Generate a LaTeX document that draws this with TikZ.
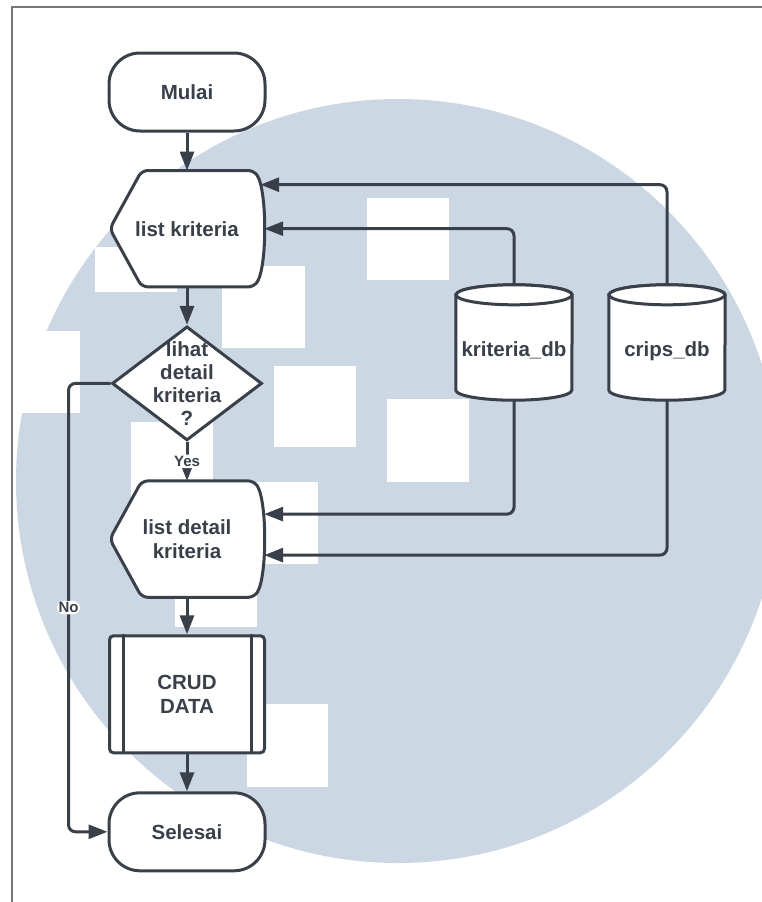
\documentclass[tikz,border=0pt]{standalone}
\usepackage{fontspec}
\setmainfont{Liberation Sans}
\usetikzlibrary{arrows.meta, positioning, shapes.geometric, backgrounds}
\definecolor{inkgray}{HTML}{3A4049}
\definecolor{markblue}{HTML}{CBD7E3}
\definecolor{framegray}{HTML}{767676}
\tikzset{
  term/.style={draw=inkgray, line width=3pt, fill=white, rounded corners=31pt,
               minimum width=156pt, minimum height=78pt, align=center,
               font=\bfseries\fontsize{20.5}{24}\selectfont, text=inkgray},
  disp/.style={minimum width=154pt, minimum height=116pt, align=center,
               font=\bfseries\fontsize{20.5}{24}\selectfont, text=inkgray},
  dec/.style={diamond, draw=inkgray, line width=3pt, fill=white,
              minimum width=150pt, minimum height=114pt, inner sep=-40pt, align=center,
              font=\bfseries\fontsize{20.5}{23}\selectfont, text=inkgray},
  proc/.style={draw=inkgray, line width=3pt, fill=white, rounded corners=4pt,
               minimum width=155pt, minimum height=117pt, align=center,
               font=\bfseries\fontsize{20.5}{24}\selectfont, text=inkgray},
  db/.style={minimum width=116pt, minimum height=105pt, inner sep=0pt,
             text height=22pt, text depth=4pt,
             font=\bfseries\fontsize{20.5}{24}\selectfont, text=inkgray},
  outline/.style={draw=inkgray, line width=3pt, fill=white},
  flow/.style={-{Triangle[length=19pt, width=14pt]}, line width=3pt, draw=inkgray,
               rounded corners=7pt},
  lbl/.style={fill=white, inner sep=1.5pt, font=\bfseries\fontsize{15}{17}\selectfont,
              text=inkgray},
}
% outline of a display symbol round a named node
\newcommand{\dispoutline}[1]{%
  \begin{scope}[on background layer]
    \draw[outline, rounded corners=6pt] (#1.west) -- ([xshift=32pt]#1.north west)
      -- ([xshift=-10pt]#1.north east)
      .. controls ([xshift=3pt,yshift=-21pt]#1.north east) and ([xshift=3pt,yshift=21pt]#1.south east)
      .. ([xshift=-10pt]#1.south east) -- ([xshift=32pt]#1.south west) -- cycle;
  \end{scope}}
% outline of a database cylinder round a named node
\newcommand{\dboutline}[1]{%
  \begin{scope}[on background layer]
    \draw[outline] (#1.north west) -- ([yshift=10pt]#1.south west)
      arc[start angle=180, end angle=360, x radius=58pt, y radius=10pt]
      -- (#1.north east) arc[start angle=0, end angle=180, x radius=58pt, y radius=10pt] -- cycle;
    \draw[outline] (#1.north) ellipse[x radius=58pt, y radius=10pt];
  \end{scope}}

\begin{document}
\begin{tikzpicture}[x=1pt, y=-1pt]
  \useasboundingbox (0,0) rectangle (762,902);
  % watermark and page frame
  \begin{scope}[on background layer]
    \fill[markblue] (398,481) circle[radius=382pt];
    \foreach \sx/\sy/\sw/\sh in {367/198/82/82, 222/266/83/82, 274/366/82/81, 387/399/82/83,
        236/482/82/82, 95/247/82/45, -2/331/82/82, 131/422/82/82, 175/545/82/82, 247/704/81/83}
      \fill[white] (\sx,\sy) rectangle ++(\sw,\sh);
    \draw[framegray, line width=1.8pt] (12,902) -- (12,7) -- (762,7);
  \end{scope}

  \node (m) [term] at (187,92) {Mulai};
  \node (lk) [disp, below=38pt of m] {list kriteria};
  \node (d) [dec, below=38pt of lk] {lihat\\detail\\kriteria\\?};
  \node (ld) [disp, below=39pt of d] {list detail\\kriteria};
  \node (crud) [proc, below=37pt of ld] {CRUD\\DATA};
  \node (s) [term, below=37pt of crud] {Selesai};
  \node (kdb) [db] at (514,347.5) {kriteria\_db};
  \node (cdb) [db] at (667,347.5) {crips\_db};
  \dispoutline{lk}
  \dispoutline{ld}
  \dboutline{kdb}
  \dboutline{cdb}
  \draw[draw=inkgray, line width=3pt] ([xshift=15pt]crud.north west) -- ([xshift=15pt]crud.south west);
  \draw[draw=inkgray, line width=3pt] ([xshift=-15pt]crud.north east) -- ([xshift=-15pt]crud.south east);

  \draw[flow] (m) -- (lk);
  \draw[flow] (lk) -- (d);
  \draw[flow] (d.south) -- node[lbl]{Yes} (ld.north);
  \draw[flow] (ld) -- (crud);
  \draw[flow] (crud) -- (s);
  \draw[flow] (d.west) -- ++(-42pt,0) |- node[lbl, pos=0.25]{No} (s.west);
  \draw[flow] ([yshift=10pt]kdb.north) |- (lk.east);
  \draw[flow] ([yshift=10pt]cdb.north) |- ([xshift=-4pt,yshift=44pt]lk.east);
  \draw[flow] (kdb.south) |- ([yshift=25pt]ld.east);
  \draw[flow] (cdb.south) |- ([yshift=-16pt]ld.east);
\end{tikzpicture}
\end{document}
